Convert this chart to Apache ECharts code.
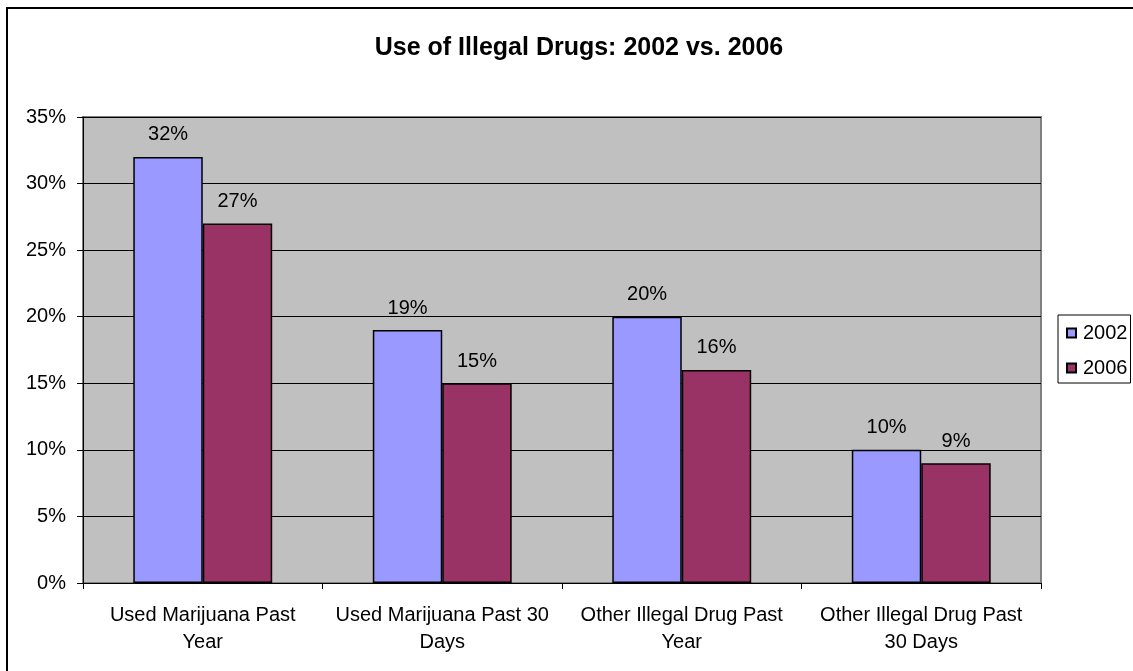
<!DOCTYPE html>
<html>
<head>
<meta charset="utf-8">
<script src="https://cdn.jsdelivr.net/npm/echarts@6/dist/echarts.min.js"></script>
<style>
html,body{margin:0;padding:0;background:#fff;}
#chart{width:1133px;height:671px;}
</style>
</head>
<body>
<div id="chart"></div>
<script>
const categories = ['Used Marijuana Past\nYear', 'Used Marijuana Past 30\nDays', 'Other Illegal Drug Past\nYear', 'Other Illegal Drug Past\n30 Days'];
const values2002 = [32, 19, 20, 10];
const values2006 = [27, 15, 16, 9];
const yTicks = [0, 5, 10, 15, 20, 25, 30, 35];

const font = 'Liberation Sans, Arial, sans-serif';
const chart = echarts.init(document.getElementById('chart'));
chart.setOption({
  animation: false,
  backgroundColor: '#ffffff',
  title: {
    text: 'Use of Illegal Drugs: 2002 vs. 2006',
    left: 574, top: 31, textAlign: 'center',
    textStyle: { fontFamily: font, fontSize: 25, fontWeight: 'bold', color: '#000' }
  },
  graphic: [{
    type: 'rect', silent: true, z: -1,
    shape: { x: 7, y: 8, width: 1140, height: 680 },
    style: { fill: 'none', stroke: '#000', lineWidth: 2 }
  }],
  legend: {
    orient: 'vertical', left: 1058, top: 315,
    itemWidth: 9, itemHeight: 9, itemGap: 15,
    padding: [8, 3, 5, 8],
    borderColor: '#000', borderWidth: 1,
    icon: 'rect',
    textStyle: { fontFamily: font, fontSize: 20, color: '#000', padding: [0, 0, 0, 2] },
    data: ['2002', '2006']
  },
  grid: {
    left: 83, right: 92, top: 117, bottom: 88,
    show: true, backgroundColor: '#C0C0C0', borderColor: '#808080', borderWidth: 2
  },
  xAxis: {
    type: 'category', data: categories,
    axisLine: { lineStyle: { color: '#000', width: 1 } },
    axisTick: { show: true, length: 6, lineStyle: { color: '#000' } },
    axisLabel: { interval: 0, hideOverlap: false, fontFamily: font, fontSize: 20, color: '#000', margin: 19, lineHeight: 27 }
  },
  yAxis: {
    type: 'value', min: 0, max: 35, interval: 5,
    axisLine: { show: true, lineStyle: { color: '#000' } },
    axisTick: { show: true, length: 6, lineStyle: { color: '#000' } },
    axisLabel: {
      fontFamily: font, fontSize: 20, color: '#000', margin: 17,
      formatter: v => yTicks.includes(v) ? v + '%' : ''
    },
    splitLine: { show: true, lineStyle: { color: '#000', width: 1 } }
  },
  series: [
    {
      name: '2002', type: 'bar', data: values2002,
      barGap: '0%', barCategoryGap: '42%',
      itemStyle: { color: '#9999FF', borderColor: '#000', borderWidth: 1.5 },
      label: { show: true, position: 'top', distance: 12, formatter: '{c}%', fontFamily: font, fontSize: 20, color: '#000' }
    },
    {
      name: '2006', type: 'bar', data: values2006,
      barGap: '0%', barCategoryGap: '42%',
      itemStyle: { color: '#993366', borderColor: '#000', borderWidth: 1.5 },
      label: { show: true, position: 'top', distance: 12, formatter: '{c}%', fontFamily: font, fontSize: 20, color: '#000' }
    }
  ]
});
</script>
</body>
</html>
